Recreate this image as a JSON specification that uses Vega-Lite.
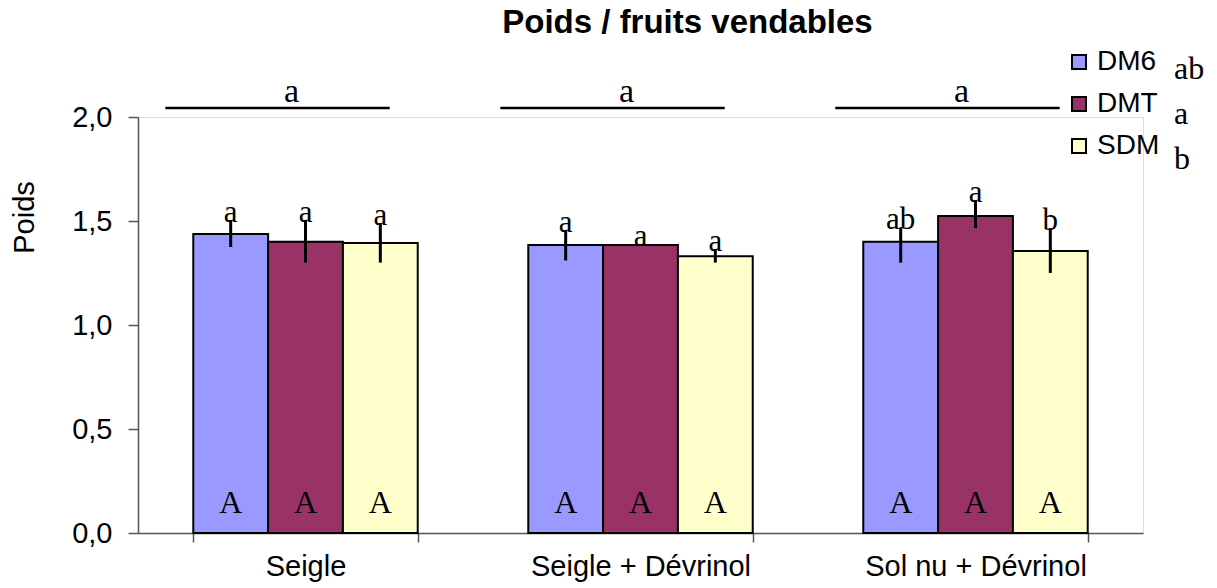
{
  "$schema": "https://vega.github.io/schema/vega-lite/v6.json",
  "autosize": {"type": "none"},
  "width": 1005,
  "height": 416,
  "padding": {"left": 138, "top": 117, "right": 74, "bottom": 55},
  "background": "white",
  "title": {
    "text": "Poids / fruits vendables",
    "font": "Liberation Sans",
    "fontSize": 33,
    "fontWeight": "bold",
    "color": "black",
    "anchor": "middle",
    "frame": "group",
    "dx": 47,
    "offset": 8
  },
  "datasets": {
    "bars": [
      {"group": "Seigle", "treat": "DM6", "v": 1.437, "lo": 1.375, "hi": 1.505, "sig": "a", "inner": "A", "overall": "ab"},
      {"group": "Seigle", "treat": "DMT", "v": 1.40, "lo": 1.30, "hi": 1.505, "sig": "a", "inner": "A", "overall": "a"},
      {"group": "Seigle", "treat": "SDM", "v": 1.394, "lo": 1.30, "hi": 1.49, "sig": "a", "inner": "A", "overall": "b"},
      {"group": "Seigle + Dévrinol", "treat": "DM6", "v": 1.385, "lo": 1.31, "hi": 1.457, "sig": "a", "inner": "A", "overall": "ab"},
      {"group": "Seigle + Dévrinol", "treat": "DMT", "v": 1.385, "lo": 1.38, "hi": 1.39, "sig": "a", "inner": "A", "overall": "a"},
      {"group": "Seigle + Dévrinol", "treat": "SDM", "v": 1.33, "lo": 1.30, "hi": 1.365, "sig": "a", "inner": "A", "overall": "b"},
      {"group": "Sol nu + Dévrinol", "treat": "DM6", "v": 1.40, "lo": 1.30, "hi": 1.47, "sig": "ab", "inner": "A", "overall": "ab"},
      {"group": "Sol nu + Dévrinol", "treat": "DMT", "v": 1.524, "lo": 1.466, "hi": 1.60, "sig": "a", "inner": "A", "overall": "a"},
      {"group": "Sol nu + Dévrinol", "treat": "SDM", "v": 1.356, "lo": 1.25, "hi": 1.466, "sig": "b", "inner": "A", "overall": "b"}
    ],
    "groups": [
      {"group": "Seigle", "letter": "a"},
      {"group": "Seigle + Dévrinol", "letter": "a"},
      {"group": "Sol nu + Dévrinol", "letter": "a"}
    ]
  },
  "encoding": {
    "x": {
      "field": "group",
      "type": "nominal",
      "sort": ["Seigle", "Seigle + Dévrinol", "Sol nu + Dévrinol"],
      "scale": {"paddingInner": 0.33, "paddingOuter": 0.165},
      "axis": {
        "title": null,
        "labelAngle": 0,
        "labelFont": "Liberation Sans",
        "labelFontSize": 29,
        "labelColor": "black",
        "labelPadding": 10,
        "labelLimit": 500,
        "tickBand": "extent",
        "tickSize": 9,
        "tickColor": "#555",
        "domainColor": "#555",
        "tickWidth": 1.5,
        "domainWidth": 1.5
      }
    }
  },
  "layer": [
    {
      "data": {"name": "bars"},
      "mark": {"type": "bar", "stroke": "black", "strokeWidth": 2},
      "encoding": {
        "xOffset": {"field": "treat", "type": "nominal", "scale": {"paddingInner": 0, "paddingOuter": 0}},
        "y": {
          "field": "v",
          "type": "quantitative",
          "scale": {"domain": [0, 2], "nice": false},
          "axis": {
            "values": [0, 0.5, 1, 1.5, 2],
            "labelExpr": "replace(format(datum.value, '.1f'), '.', ',')",
            "grid": false,
            "title": "Poids",
            "titleFont": "Liberation Sans",
            "titleFontSize": 29,
            "titleFontWeight": "normal",
            "titleColor": "black",
            "titleX": -114,
            "titleY": 100,
            "titleAngle": -90,
            "titleAlign": "center",
            "titleBaseline": "middle",
            "labelFont": "Liberation Sans",
            "labelFontSize": 29,
            "labelColor": "black",
            "labelPadding": 16,
            "tickSize": 10,
            "tickColor": "#555",
            "domainColor": "#555",
            "tickWidth": 1.5,
            "domainWidth": 1.5
          }
        },
        "fill": {
          "field": "treat",
          "type": "nominal",
          "scale": {"domain": ["DM6", "DMT", "SDM"], "range": ["#9999FF", "#993366", "#FFFFCC"]},
          "legend": {
            "title": null,
            "orient": "none",
            "legendX": 927,
            "legendY": -69,
            "symbolType": "square",
            "symbolSize": 196,
            "symbolStrokeColor": "black",
            "symbolStrokeWidth": 2,
            "labelFont": "Liberation Sans",
            "labelFontSize": 28,
            "labelColor": "black",
            "labelOffset": 4,
            "rowPadding": 14
          }
        }
      }
    },
    {
      "data": {"name": "bars"},
      "mark": {"type": "point", "opacity": 0},
      "encoding": {
        "xOffset": {"field": "treat", "type": "nominal"},
        "y": {"field": "v", "type": "quantitative"},
        "shape": {
          "field": "overall",
          "type": "nominal",
          "scale": {"domain": ["ab", "a", "b"]},
          "legend": {
            "title": null,
            "orient": "none",
            "legendX": 1000,
            "legendY": -64,
            "symbolSize": 0,
            "symbolOpacity": 0,
            "symbolStrokeWidth": 0,
            "labelFont": "Liberation Serif",
            "labelFontSize": 32,
            "labelColor": "black",
            "labelOffset": 4,
            "rowPadding": 13
          }
        }
      }
    },
    {
      "data": {"name": "bars"},
      "mark": {"type": "rule", "color": "black", "strokeWidth": 3},
      "encoding": {
        "xOffset": {"field": "treat", "type": "nominal"},
        "y": {"field": "lo", "type": "quantitative"},
        "y2": {"field": "hi"}
      }
    },
    {
      "data": {"name": "bars"},
      "mark": {"type": "text", "font": "Liberation Serif", "fontSize": 31, "color": "black", "baseline": "alphabetic", "dy": 2},
      "encoding": {
        "xOffset": {"field": "treat", "type": "nominal"},
        "y": {"field": "hi", "type": "quantitative"},
        "text": {"field": "sig"}
      }
    },
    {
      "data": {"name": "bars"},
      "mark": {"type": "text", "font": "Liberation Serif", "fontSize": 32, "color": "black", "baseline": "alphabetic", "dy": -20},
      "encoding": {
        "xOffset": {"field": "treat", "type": "nominal"},
        "y": {"datum": 0, "type": "quantitative"},
        "text": {"field": "inner"}
      }
    },
    {
      "data": {"name": "groups"},
      "mark": {"type": "rule", "color": "black", "strokeWidth": 2.5, "xOffset": -28, "x2Offset": -28},
      "encoding": {
        "x": {"field": "group", "type": "nominal", "bandPosition": 0, "sort": ["Seigle", "Seigle + Dévrinol", "Sol nu + Dévrinol"]},
        "x2": {"field": "group", "bandPosition": 1},
        "y": {"datum": 2.043, "type": "quantitative"}
      }
    },
    {
      "data": {"name": "groups"},
      "mark": {"type": "text", "font": "Liberation Serif", "fontSize": 34, "color": "black", "baseline": "alphabetic", "dy": -6, "xOffset": -14},
      "encoding": {
        "y": {"datum": 2.043, "type": "quantitative"},
        "text": {"field": "letter"}
      }
    }
  ]
}
